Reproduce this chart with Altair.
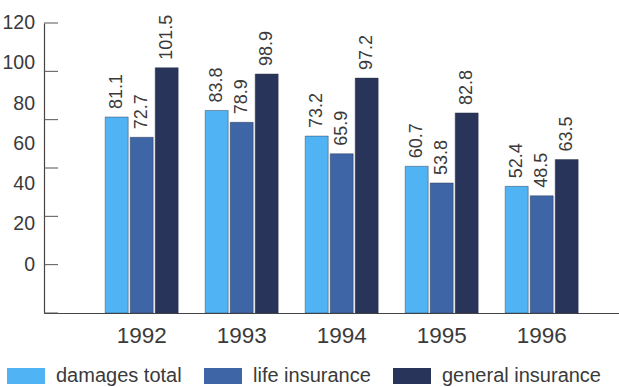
import altair as alt
import pandas as pd

# Claims paid per year, by branch
years = ["1992", "1993", "1994", "1995", "1996"]
damages_total = [81.1, 83.8, 73.2, 60.7, 52.4]
life_insurance = [72.7, 78.9, 65.9, 53.8, 48.5]
general_insurance = [101.5, 98.9, 97.2, 82.8, 63.5]

series_names = ["damages total", "life insurance", "general insurance"]
series_colors = ["#50b4f4", "#3e66a6", "#29345a"]

tick_values = [0, 20, 40, 60, 80, 100, 120]
scale_labels = [0, 20, 40, 60, 80, 100, 120]

FONT = "Liberation Sans"
INK = "#3a3a3a"

rows = []
for i, yr in enumerate(years):
    for name, vals in zip(series_names, [damages_total, life_insurance, general_insurance]):
        rows.append({"year": yr, "series": name, "value": vals[i]})
bars_df = pd.DataFrame(rows)

x_enc = alt.X(
    "year:N",
    sort=years,
    scale=alt.Scale(paddingInner=0.27, paddingOuter=0.51, align=0.6),
    axis=alt.Axis(
        title=None, ticks=False, labelAngle=0, domainColor="#444",
        domainWidth=1.2, labelFontSize=22.5, labelColor=INK,
        labelFont=FONT, labelPadding=11,
    ),
)
y_scale = alt.Scale(domain=[0, 120], nice=False)
x_off = alt.XOffset("series:N", sort=series_names,
                    scale=alt.Scale(paddingInner=0.08, paddingOuter=0))

bars = alt.Chart(bars_df).mark_bar(
    stroke="#2a3348", strokeWidth=0.8, strokeOpacity=0.55
).encode(
    x=x_enc,
    xOffset=x_off,
    y=alt.Y("value:Q", scale=y_scale,
            axis=alt.Axis(title=None, labels=False, ticks=False, grid=False,
                          domainColor="#444", domainWidth=1.2)),
    color=alt.Color(
        "series:N", sort=series_names,
        scale=alt.Scale(domain=series_names, range=series_colors),
        legend=alt.Legend(
            title=None, orient="none", legendX=-37, legendY=334,
            direction="horizontal",
            symbolType="M-1,-0.42H1V0.42H-1Z", symbolSize=1444,
            symbolStrokeWidth=0, symbolOpacity=1,
            labelFontSize=20, labelFont=FONT, labelColor=INK,
            labelOffset=11, columnPadding=22, padding=0,
        ),
    ),
)

value_labels = alt.Chart(bars_df).mark_text(
    angle=270, align="left", baseline="middle", dx=8,
    fontSize=18, font=FONT, color=INK,
).encode(
    x=alt.X("year:N", sort=years),
    xOffset=x_off,
    y=alt.Y("value:Q", scale=y_scale),
    text=alt.Text("value:Q", format=".1f"),
)

# Inward tick marks on the value axis
ticks = alt.Chart(pd.DataFrame({"t": tick_values})).mark_rule(
    color="#555", strokeWidth=1
).encode(
    y=alt.Y("t:Q", scale=y_scale),
    x=alt.value(0),
    x2=alt.value(14),
)

# Scale numbers set beside the axis
scale_text = alt.Chart(pd.DataFrame({"v": scale_labels})).transform_calculate(
    pos="20 + datum.v * 100 / 120"
).mark_text(
    align="right", baseline="middle", fontSize=19.5, font=FONT, color=INK,
).encode(
    y=alt.Y("pos:Q", scale=y_scale),
    x=alt.value(-9),
    text=alt.Text("v:Q"),
)

chart = alt.layer(bars, ticks, value_labels, scale_text).properties(
    width=575,
    height=290,
    autosize=alt.AutoSizeParams(type="none"),
    padding={"left": 44, "top": 23, "right": 0, "bottom": 74},
    background="white",
).configure_view(stroke=None)

chart.save("out.html", embed_options={"renderer": "svg", "actions": False})
